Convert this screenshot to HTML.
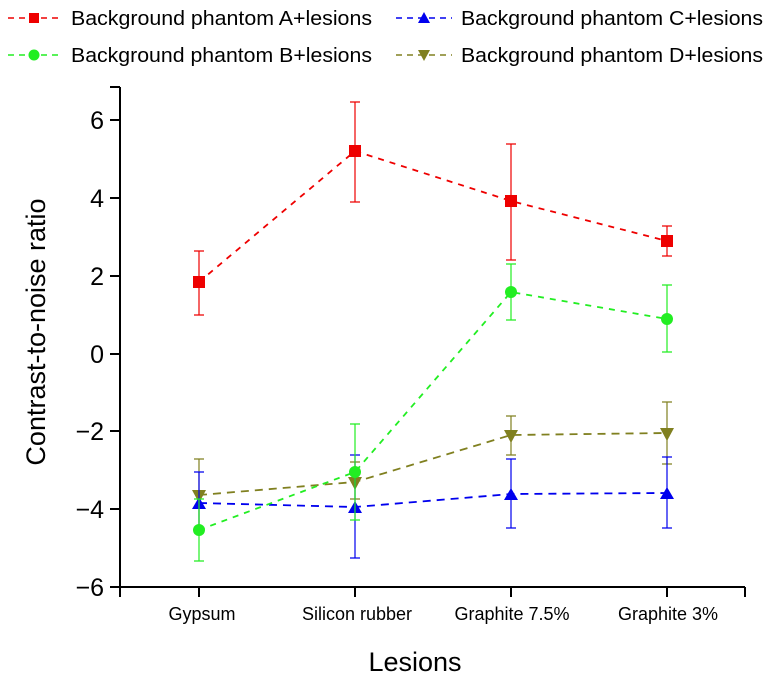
<!DOCTYPE html>
<html><head><style>body{margin:0;background:#fff}svg{display:block;font-family:"Liberation Sans",Arial,sans-serif}</style></head>
<body>
<svg width="770" height="680" viewBox="0 0 770 680" xmlns="http://www.w3.org/2000/svg">
<g font-size="20.5" fill="#000">
<line x1="8" y1="18" x2="62" y2="18" stroke="#e00" stroke-width="1.5" stroke-dasharray="6,5"/><rect x="29" y="13" width="10" height="10" fill="#e00"/>
<text x="71" y="25" textLength="301" lengthAdjust="spacingAndGlyphs">Background phantom A+lesions</text>
<line x1="8" y1="55" x2="62" y2="55" stroke="#2e2" stroke-width="1.5" stroke-dasharray="6,5"/><circle cx="34" cy="55" r="5.5" fill="#2e2"/>
<text x="71" y="62" textLength="301" lengthAdjust="spacingAndGlyphs">Background phantom B+lesions</text>
<line x1="396" y1="18" x2="452" y2="18" stroke="#00e" stroke-width="1.5" stroke-dasharray="6,5"/><polygon points="424,12 430,23 418,23" fill="#00e"/>
<text x="461" y="25" textLength="302" lengthAdjust="spacingAndGlyphs">Background phantom C+lesions</text>
<line x1="396" y1="55" x2="452" y2="55" stroke="#808020" stroke-width="1.5" stroke-dasharray="6,5"/><polygon points="418,50 430,50 424,61" fill="#808020"/>
<text x="461" y="62" textLength="302" lengthAdjust="spacingAndGlyphs">Background phantom D+lesions</text>
</g>
<g stroke="#000" stroke-width="2" fill="none">
<line x1="120" y1="87" x2="120" y2="587"/>
<line x1="120" y1="587" x2="745" y2="587"/>
<line x1="110" y1="87" x2="120" y2="87"/>
<line x1="110" y1="120" x2="120" y2="120"/><line x1="110" y1="198" x2="120" y2="198"/><line x1="110" y1="276" x2="120" y2="276"/><line x1="110" y1="354" x2="120" y2="354"/><line x1="110" y1="431" x2="120" y2="431"/><line x1="110" y1="509" x2="120" y2="509"/><line x1="110" y1="587" x2="120" y2="587"/>
<line x1="120" y1="587" x2="120" y2="597"/><line x1="199" y1="587" x2="199" y2="597"/><line x1="355" y1="587" x2="355" y2="597"/><line x1="511" y1="587" x2="511" y2="597"/><line x1="667" y1="587" x2="667" y2="597"/><line x1="745" y1="587" x2="745" y2="597"/>
</g>
<g font-size="25" text-anchor="end" fill="#000">
<text x="104" y="129">6</text><text x="104" y="207">4</text><text x="104" y="285">2</text><text x="104" y="363">0</text><text x="104" y="440">−2</text><text x="104" y="518">−4</text><text x="104" y="596">−6</text>
</g>
<g font-size="18" text-anchor="middle" fill="#000">
<text x="202" y="620">Gypsum</text><text x="357" y="620">Silicon rubber</text><text x="512" y="620">Graphite 7.5%</text><text x="668" y="620">Graphite 3%</text>
</g>
<text x="415" y="671" font-size="27" text-anchor="middle">Lesions</text>
<text transform="translate(45,332) rotate(-90)" font-size="27" text-anchor="middle">Contrast-to-noise ratio</text>
<g stroke="#808020" stroke-width="1.2" fill="none">
<path d="M199,533V459M194,533h10M194,459h10 M355,499V462M350,499h10M350,462h10 M511,455V416M506,455h10M506,416h10 M667,464V402M662,464h10M662,402h10"/>
<polyline points="199,495 355,482 511,435 667,433" stroke-width="1.8" stroke-dasharray="8,6"/>
</g>
<g fill="#808020"><polygon points="192,490 206,490 199,503"/><polygon points="348,477 362,477 355,490"/><polygon points="504,430 518,430 511,443"/><polygon points="660,428 674,428 667,441"/></g>
<g stroke="#00e" stroke-width="1.2" fill="none">
<path d="M199,532V472M194,532h10M194,472h10 M355,558V455M350,558h10M350,455h10 M511,528V459M506,528h10M506,459h10 M667,528V457M662,528h10M662,457h10"/>
<polyline points="199,503 355,507 511,494 667,493" stroke-width="1.8" stroke-dasharray="8,6"/>
</g>
<g fill="#00e"><polygon points="199,497 206,509 192,509"/><polygon points="355,501 362,513 348,513"/><polygon points="511,488 518,500 504,500"/><polygon points="667,487 674,499 660,499"/></g>
<g stroke="#2e2" stroke-width="1.2" fill="none">
<path d="M199,561V499M194,561h10M194,499h10 M355,520V424M350,520h10M350,424h10 M511,320V264M506,320h10M506,264h10 M667,352V285M662,352h10M662,285h10"/>
<polyline points="199,530 355,472 511,292 667,319" stroke-width="1.8" stroke-dasharray="6,6"/>
</g>
<g fill="#2e2"><circle cx="199" cy="530" r="6"/><circle cx="355" cy="472" r="6"/><circle cx="511" cy="292" r="6"/><circle cx="667" cy="319" r="6"/></g>
<g stroke="#e00" stroke-width="1.2" fill="none">
<path d="M199,315V251M194,315h10M194,251h10 M355,202V102M350,202h10M350,102h10 M511,260V144M506,260h10M506,144h10 M667,256V226M662,256h10M662,226h10"/>
<polyline points="199,282 355,151 511,201 667,241" stroke-width="1.8" stroke-dasharray="6,6"/>
</g>
<g fill="#e00"><rect x="193" y="276" width="12" height="12"/><rect x="349" y="145" width="12" height="12"/><rect x="505" y="195" width="12" height="12"/><rect x="661" y="235" width="12" height="12"/></g>
</svg>
</body></html>
